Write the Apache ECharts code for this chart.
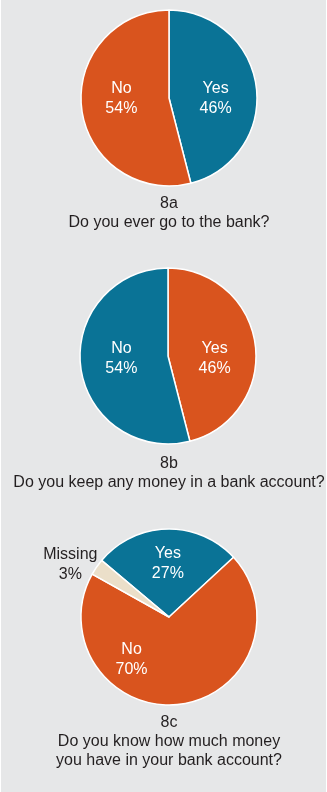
<!DOCTYPE html>
<html>
<head>
<meta charset="utf-8">
<script src="https://cdn.jsdelivr.net/npm/echarts@6/dist/echarts.min.js"></script>
<style>
  html, body { margin: 0; padding: 0; background: #ffffff; }
  #chart { position: absolute; left: 1px; top: 0; width: 325px; height: 792px; background: #e6e7e8; }
</style>
</head>
<body>
<div id="chart"></div>
<script>
// Survey answers, in percent
const namesA = ['Yes', 'No'];
const valuesA = [46, 54];
const namesB = ['Yes', 'No'];
const valuesB = [46, 54];
const namesC = ['Yes', 'No', 'Missing'];
const valuesC = [27, 70, 3];

const captions = [
  '8a\nDo you ever go to the bank?',
  '8b\nDo you keep any money in a bank account?',
  '8c\nDo you know how much money\nyou have in your bank account?'
];

const TEAL = '#0a7396';
const ORANGE = '#d9541e';
const BEIGE = '#ebdfc9';
const FONT = '"Liberation Sans", Arial, sans-serif';

const chart = echarts.init(document.getElementById('chart'), null, { renderer: 'canvas' });

function pieData(names, values, colors, labelTweaks) {
  return names.map((n, i) => {
    const item = { name: n, value: values[i], itemStyle: { color: colors[i] } };
    if (labelTweaks && labelTweaks[i]) item.label = labelTweaks[i];
    return item;
  });
}

const baseLabel = {
  show: true,
  position: 'inside',
  formatter: '{b}\n{c}%',
  color: '#ffffff',
  fontFamily: FONT,
  fontSize: 16,
  lineHeight: 20,
  align: 'center'
};

function pieSeries(center, startAngle, data) {
  return {
    type: 'pie',
    center: center,
    radius: 88,
    startAngle: startAngle,
    clockwise: true,
    animation: false,
    silent: true,
    itemStyle: { borderColor: '#ffffff', borderWidth: 1.5 },
    label: baseLabel,
    labelLine: { show: false },
    emphasis: { disabled: true },
    data: data
  };
}

chart.setOption({
  backgroundColor: 'transparent',
  title: captions.map((t, i) => ({
    text: t,
    left: 168,
    top: [194, 454, 713][i],
    padding: 0,
    textAlign: 'center',
    textStyle: {
      fontFamily: FONT,
      fontSize: 16,
      fontWeight: 'normal',
      color: '#231f20',
      lineHeight: 19
    }
  })),
  series: [
    pieSeries([168, 98], 90, pieData(namesA, valuesA, [TEAL, ORANGE], [
      { offset: [0, 6] },
      { offset: [-1, -5] }
    ])),
    pieSeries([167, 356], 90, pieData(namesB, valuesB, [ORANGE, TEAL], [
      { offset: [0, 8] },
      { offset: [0, -3] }
    ])),
    pieSeries([168, 617], 140, pieData(namesC, valuesC, [TEAL, ORANGE, BEIGE], [
      { offset: [0, -6] },
      { offset: [-43, -4] },
      { offset: [-60, -26], color: '#231f20' }
    ]))
  ]
});
</script>
</body>
</html>
